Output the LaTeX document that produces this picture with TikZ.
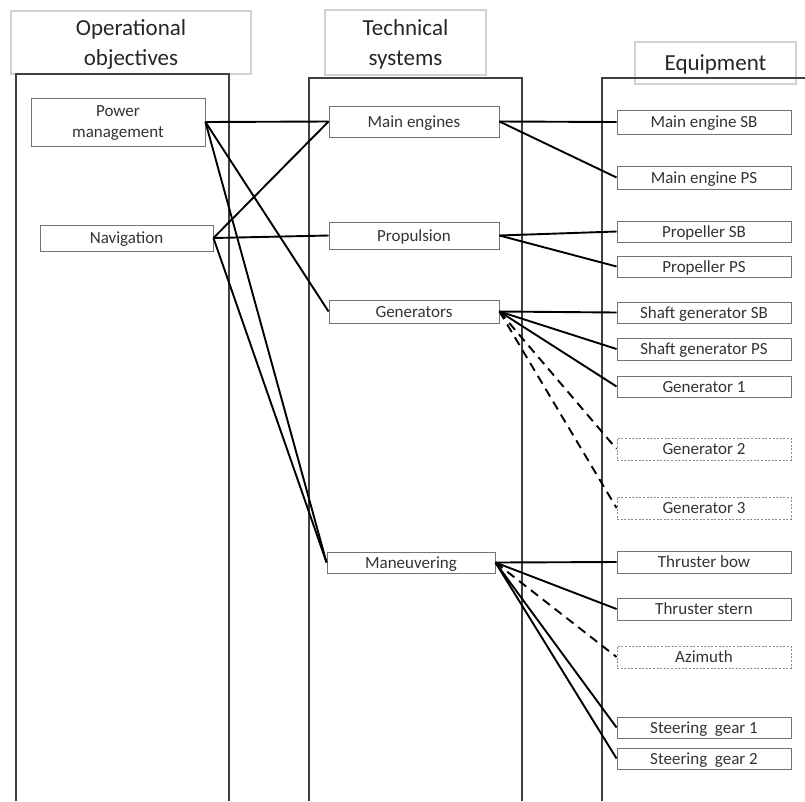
\documentclass[tikz,border=0pt]{standalone}
\usepackage{fontspec}
\setmainfont{Carlito}
\tikzset{
  headbox/.style={draw=black!18, line width=1.4pt, inner sep=0pt, align=center, text=black!85,
    text depth=0pt, font=\fontsize{23}{30}\selectfont},
  itembase/.style={draw=black!55, line width=0.9pt, inner sep=0pt, minimum width=174pt,
    minimum height=22pt, text=black!80, font=\fontsize{17}{21}\selectfont, align=center},
  itembox/.style={itembase, text height=12pt, text depth=1pt},
  spare/.style={itembox, draw=black!45, dash pattern=on 2pt off 1.6pt},
  link/.style={line width=1.9pt, black},
  sparelink/.style={link, dash pattern=on 9pt off 6pt},
  column/.style={draw=black!75, line width=1.4pt}
}
\begin{document}
\begin{tikzpicture}[x=1pt, y=-1pt]
  \useasboundingbox (0,0) rectangle (805,801);

  % Headers
  \node[headbox, minimum width=240pt, minimum height=63pt] (hops) at (131,42.5) {Operational\\objectives};
  \node[headbox, minimum width=161pt, minimum height=65pt] (htech) at (405.5,42.5) {Technical\\systems};
  \node[headbox, minimum width=161pt, minimum height=42pt] (hequip) at (715.5,63) {Equipment};

  % Columns
  \draw[column] (16,801) -- (16,74) -- (229,74) -- (229,801);
  \draw[column] (309,801) -- (309,78) -- (522,78) -- (522,801);
  \draw[column] (602,801) -- (602,78) -- (805,78);

  % Operational objectives
  \node[itembase, minimum height=48pt, text depth=1pt] (power) at (118,122) {Power\\management};
  \node[itembox, minimum width=173pt, minimum height=26pt] (nav) at (126.5,238) {Navigation};

  % Technical systems
  \node[itembox, minimum width=170pt, minimum height=31pt] (engines) at (414,121.5) {Main engines};
  \node[itembox, minimum width=170pt, minimum height=27pt] (propulsion) at (414,235.5) {Propulsion};
  \node[itembox, minimum width=170pt, minimum height=23pt] (generators) at (414,311.5) {Generators};
  \node[itembox, minimum width=168pt, minimum height=21pt] (maneuver) at (411,562.5) {Maneuvering};

  % Equipment
  \node[itembox, minimum height=24pt] (mesb) at (704,122) {Main engine SB};
  \node[itembox, minimum height=23pt] (meps) at (704,177.5) {Main engine PS};
  \node[itembox, minimum height=21pt] (propsb) at (704,231.5) {Propeller SB};
  \node[itembox, minimum height=21pt] (propps) at (704,266.5) {Propeller PS};
  \node[itembox, minimum height=21pt] (shaftsb) at (704,312.5) {Shaft generator SB};
  \node[itembox, minimum height=22pt] (shaftps) at (704,349) {Shaft generator PS};
  \node[itembox, minimum height=21pt] (gena) at (704,386.5) {Generator 1};
  \node[spare] (genb) at (704,449) {Generator 2};
  \node[spare] (genc) at (704,508) {Generator 3};
  \node[itembox] (bow) at (704,562) {Thruster bow};
  \node[itembox] (stern) at (704,609) {Thruster stern};
  \node[spare] (azimuth) at (704,657) {Azimuth};
  \node[itembox, minimum height=21pt] (steera) at (704,727.5) {Steering\ \ gear 1};
  \node[itembox, minimum height=21pt] (steerb) at (704,758.5) {Steering\ \ gear 2};

  % Links objectives - systems
  \draw[link] (power.east) -- (engines.west);
  \draw[link] (power.east) -- (generators.west);
  \draw[link] (power.east) -- (maneuver.west);
  \draw[link] (nav.east) -- (engines.west);
  \draw[link] (nav.east) -- (propulsion.west);
  \draw[link] (nav.east) -- (maneuver.west);

  % Links systems - equipment
  \draw[link] (engines.east) -- (mesb.west);
  \draw[link] (engines.east) -- (meps.west);
  \draw[link] (propulsion.east) -- (propsb.west);
  \draw[link] (propulsion.east) -- (propps.west);
  \draw[link] (generators.east) -- (shaftsb.west);
  \draw[link] (generators.east) -- (shaftps.west);
  \draw[link] (generators.east) -- (gena.west);
  \draw[sparelink] (generators.east) -- (genb.west);
  \draw[sparelink] (generators.east) -- (genc.west);
  \draw[link] (maneuver.east) -- (bow.west);
  \draw[link] (maneuver.east) -- (stern.west);
  \draw[sparelink] (maneuver.east) -- (azimuth.west);
  \draw[link] (maneuver.east) -- (steera.west);
  \draw[link] (maneuver.east) -- (steerb.west);
\end{tikzpicture}
\end{document}
